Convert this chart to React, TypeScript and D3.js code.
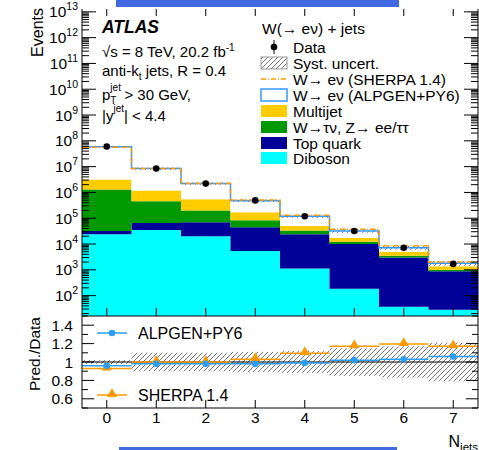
import * as d3 from "d3";
import { useEffect, useRef } from "react";

// jet multiplicity bins
const nJets = [0, 1, 2, 3, 4, 5, 6, 7];
const xTickLabels = ["0", "1", "2", "3", "4", "5", "6", "7"];

// events per bin
const dataEvents = [6.0e7, 8.5e6, 2.2e6, 4.9e5, 1.2e5, 3.2e4, 7.1e3, 1.7e3];
const wAlpgen = [5.58e7, 7.2e6, 1.66e6, 3.1e5, 6.8e4, 1.46e4, 2.2e3, 450];
const multijet = [1.9e6, 7.5e5, 3.4e5, 8.7e4, 1.7e4, 5.1e3, 1.5e3, 350];
const ewk = [1.27e6, 3.85e5, 1.3e5, 3.8e4, 9e3, 2.3e3, 540, 130];
const topQuark = [8e3, 3.0e4, 5.0e4, 3.96e4, 2.3e4, 9.8e3, 2.94e3, 858];
const diboson = [2.4e4, 3.5e4, 2.0e4, 5.4e3, 1.1e3, 170, 21, 12];

// ratio panel
const ratioAlpgen = [0.96, 0.98, 0.98, 0.98, 0.99, 1.02, 1.03, 1.06];
const ratioSherpa = [0.93, 1.0, 1.0, 1.03, 1.095, 1.17, 1.195, 1.17];
const systUncert = [0.02, 0.1, 0.1, 0.11, 0.12, 0.15, 0.17, 0.21];
const ratioTicks = [0.6, 0.8, 1, 1.2, 1.4];

const W = 479;
const H = 450;
const left = 82;
const right = 478;
const top = 9;
const split = 316;
const bottom = 408;

const font = "'Liberation Sans', Arial, sans-serif";

function App() {
  const svgRef = useRef<SVGSVGElement>(null);

  useEffect(() => {
    const svg = d3.select(svgRef.current);
    svg.selectAll("*").remove();

    const x = d3.scaleLinear().domain([-0.5, 7.5]).range([left, right]);
    const y = d3.scaleLog().domain([Math.pow(10, 1.21), Math.pow(10, 13.11)]).range([split, top]);
    const yr = d3.scaleLinear().domain([0.5, 1.5]).range([bottom, split]);

    const defs = svg.append("defs");
    const pat = defs
      .append("pattern")
      .attr("id", "hatch")
      .attr("patternUnits", "userSpaceOnUse")
      .attr("width", 5)
      .attr("height", 5);
    pat
      .append("path")
      .attr("d", "M-1,1 l2,-2 M0,5 l5,-5 M4,6 l2,-2")
      .attr("stroke", "#666")
      .attr("stroke-width", 0.9);
    defs
      .append("clipPath")
      .attr("id", "mainClip")
      .append("rect")
      .attr("x", left)
      .attr("y", top)
      .attr("width", right - left)
      .attr("height", split - top);

    // blue bars
    svg.append("rect").attr("x", 116).attr("y", 0).attr("width", 283).attr("height", 7).attr("fill", "#4169e1");
    svg.append("rect").attr("x", 119).attr("y", 447).attr("width", 278).attr("height", 3).attr("fill", "#4169e1");

    const stepPts = (vals: number[]) => {
      const pts = nJets.map((n, i) => ({ x: n - 0.5, v: vals[i] }));
      pts.push({ x: 7.5, v: vals[vals.length - 1] });
      return pts;
    };

    // stacked histograms
    const layers = [
      { vals: diboson, color: "#00ffff" },
      { vals: topQuark, color: "#000099" },
      { vals: ewk, color: "#009900" },
      { vals: multijet, color: "#ffcc00" },
      { vals: wAlpgen, color: "#ffffff" },
    ];
    const main = svg.append("g").attr("clip-path", "url(#mainClip)");
    let cum = nJets.map(() => y.domain()[0]);
    layers.forEach((l) => {
      const lo = cum.slice();
      const hi = lo.map((c, i) => c + l.vals[i]);
      const loPts = stepPts(lo);
      const hiPts = stepPts(hi);
      const area = d3
        .area<{ x: number; v: number }>()
        .curve(d3.curveStepAfter)
        .x((d) => x(d.x))
        .y0((_, i) => y(loPts[i].v))
        .y1((d) => y(d.v));
      main.append("path").attr("d", area(hiPts) as string).attr("fill", l.color);
      cum = hi;
    });
    const total = cum.slice();

    // syst band on the total
    nJets.forEach((n, i) => {
      main
        .append("rect")
        .attr("x", x(n - 0.5))
        .attr("width", x(n + 0.5) - x(n - 0.5))
        .attr("y", y(total[i] * (1 + systUncert[i])))
        .attr("height", y(total[i] * (1 - systUncert[i])) - y(total[i] * (1 + systUncert[i])))
        .attr("fill", "url(#hatch)");
    });

    const stepLine = (vals: number[]) =>
      d3
        .line<{ x: number; v: number }>()
        .curve(d3.curveStepAfter)
        .x((d) => x(d.x))
        .y((d) => y(d.v))(stepPts(vals)) as string;

    main
      .append("path")
      .attr("d", stepLine(total))
      .attr("fill", "none")
      .attr("stroke", "#3399ff")
      .attr("stroke-width", 1.5);
    const sherpaMain = nJets.map((_, i) => ratioSherpa[i] * dataEvents[i]);
    main
      .append("path")
      .attr("d", stepLine(sherpaMain))
      .attr("fill", "none")
      .attr("stroke", "#ff9900")
      .attr("stroke-width", 1.5)
      .attr("stroke-dasharray", "5,2,1,2");

    // data points
    nJets.forEach((n, i) => {
      const v = dataEvents[i];
      main
        .append("line")
        .attr("x1", x(n))
        .attr("x2", x(n))
        .attr("y1", y(v + Math.sqrt(v) * 3))
        .attr("y2", y(v - Math.sqrt(v) * 3))
        .attr("stroke", "black");
      main.append("circle").attr("cx", x(n)).attr("cy", y(v)).attr("r", 3.3).attr("fill", "black");
    });

    // ratio panel
    nJets.forEach((n, i) => {
      svg
        .append("rect")
        .attr("x", x(n - 0.5))
        .attr("width", x(n + 0.5) - x(n - 0.5))
        .attr("y", yr(1 + systUncert[i]))
        .attr("height", yr(1 - systUncert[i]) - yr(1 + systUncert[i]))
        .attr("fill", "url(#hatch)");
    });
    svg
      .append("line")
      .attr("x1", left)
      .attr("x2", right)
      .attr("y1", yr(1))
      .attr("y2", yr(1))
      .attr("stroke", "black")
      .attr("stroke-width", 1.2);

    const sherpaColor = "#ff9900";
    const alpgenColor = "#2a9df4";
    nJets.forEach((n, i) => {
      svg
        .append("line")
        .attr("x1", x(n - 0.5))
        .attr("x2", x(n + 0.5))
        .attr("y1", yr(ratioSherpa[i]))
        .attr("y2", yr(ratioSherpa[i]))
        .attr("stroke", sherpaColor)
        .attr("stroke-width", 1.5);
      svg
        .append("path")
        .attr("d", d3.symbol().type(d3.symbolTriangle).size(45)() as string)
        .attr("transform", `translate(${x(n)},${yr(ratioSherpa[i]) - 1})`)
        .attr("fill", sherpaColor);
    });
    nJets.forEach((n, i) => {
      svg
        .append("line")
        .attr("x1", x(n - 0.5))
        .attr("x2", x(n + 0.5))
        .attr("y1", yr(ratioAlpgen[i]))
        .attr("y2", yr(ratioAlpgen[i]))
        .attr("stroke", alpgenColor)
        .attr("stroke-width", 1.5);
      svg.append("circle").attr("cx", x(n)).attr("cy", yr(ratioAlpgen[i])).attr("r", 3.3).attr("fill", alpgenColor);
    });

    // ratio legend
    const rl = [
      { label: "ALPGEN+PY6", yy: 333, color: alpgenColor, tri: false },
      { label: "SHERPA 1.4", yy: 395, color: sherpaColor, tri: true },
    ];
    rl.forEach((e) => {
      svg.append("line").attr("x1", 97).attr("x2", 127).attr("y1", e.yy).attr("y2", e.yy).attr("stroke", e.color).attr("stroke-width", 1.5);
      if (e.tri) {
        svg
          .append("path")
          .attr("d", d3.symbol().type(d3.symbolTriangle).size(45)() as string)
          .attr("transform", `translate(112,${e.yy - 1})`)
          .attr("fill", e.color);
      } else {
        svg.append("circle").attr("cx", 112).attr("cy", e.yy).attr("r", 3.3).attr("fill", e.color);
      }
      svg
        .append("text")
        .attr("x", 138)
        .attr("y", e.yy + 6)
        .attr("font-size", 16)
        .attr("font-family", font)
        .text(e.label);
    });

    // frames and ticks
    const axis = svg.append("g").attr("stroke", "black").attr("stroke-width", 1);
    axis.append("line").attr("x1", left).attr("x2", left).attr("y1", top).attr("y2", bottom);
    axis.append("line").attr("x1", right).attr("x2", right).attr("y1", top).attr("y2", bottom);
    axis.append("line").attr("x1", left).attr("x2", right).attr("y1", split).attr("y2", split);
    axis.append("line").attr("x1", left).attr("x2", right).attr("y1", bottom).attr("y2", bottom);

    // log ticks
    const [y0, y1] = y.domain();
    for (let e = 1; e <= 13; e++) {
      for (let m = 1; m <= 9; m++) {
        const v = m * Math.pow(10, e);
        if (v < y0 || v > y1) continue;
        const len = m === 1 ? 14 : 7;
        const yy = y(v);
        axis.append("line").attr("x1", left).attr("x2", left + len).attr("y1", yy).attr("y2", yy);
        axis.append("line").attr("x1", right - len).attr("x2", right).attr("y1", yy).attr("y2", yy);
      }
    }
    for (let e = 2; e <= 13; e++) {
      const t = svg
        .append("text")
        .attr("x", 78)
        .attr("y", y(Math.pow(10, e)) + 5.5)
        .attr("text-anchor", "end")
        .attr("font-size", 15.5)
        .attr("font-family", font);
      t.append("tspan").text("10");
      t.append("tspan").attr("dy", -7).attr("font-size", 10.5).text(String(e));
    }

    // ratio ticks
    d3.range(0.5, 1.501, 0.1).forEach((v) => {
      const major = Math.abs(Math.round(v * 5) - v * 5) < 1e-6;
      const len = major ? 12 : 6;
      const yy = yr(v);
      axis.append("line").attr("x1", left).attr("x2", left + len).attr("y1", yy).attr("y2", yy);
      axis.append("line").attr("x1", right - len).attr("x2", right).attr("y1", yy).attr("y2", yy);
    });
    ratioTicks.forEach((v) => {
      svg
        .append("text")
        .attr("x", 73)
        .attr("y", yr(v) + 5.5)
        .attr("text-anchor", "end")
        .attr("font-size", 15.5)
        .attr("font-family", font)
        .text(String(v));
    });

    // x ticks
    nJets.forEach((n, i) => {
      const xx = x(n);
      axis.append("line").attr("x1", xx).attr("x2", xx).attr("y1", top).attr("y2", top + 7);
      axis.append("line").attr("x1", xx).attr("x2", xx).attr("y1", split - 8).attr("y2", split);
      axis.append("line").attr("x1", xx).attr("x2", xx).attr("y1", bottom - 8).attr("y2", bottom);
      svg
        .append("text")
        .attr("x", xx)
        .attr("y", 422.5)
        .attr("text-anchor", "middle")
        .attr("font-size", 15.5)
        .attr("font-family", font)
        .text(xTickLabels[i]);
    });

    // axis titles
    svg
      .append("text")
      .attr("transform", "translate(43,8) rotate(-90)")
      .attr("text-anchor", "end")
      .attr("font-size", 16)
      .attr("font-family", font)
      .text("Events");
    svg
      .append("text")
      .attr("transform", "translate(40,317) rotate(-90)")
      .attr("text-anchor", "end")
      .attr("font-size", 15.5)
      .attr("font-family", font)
      .text("Pred./Data");
    const nj = svg
      .append("text")
      .attr("x", 478)
      .attr("y", 447)
      .attr("text-anchor", "end")
      .attr("font-size", 16)
      .attr("font-family", font);
    nj.append("tspan").text("N");
    nj.append("tspan").attr("dy", 4).attr("font-size", 11.5).text("jets");

    // ATLAS label block
    const tx = (xx: number, yy: number, s: number, str: string) =>
      svg.append("text").attr("x", xx).attr("y", yy).attr("font-size", s).attr("font-family", font).text(str);
    tx(102, 33, 17.5, "ATLAS").attr("font-weight", "bold").attr("font-style", "italic");
    const sq = tx(102, 57, 15, "√s = 8 TeV, 20.2 fb");
    sq.append("tspan").attr("dy", -6).attr("font-size", 10).text("-1");
    const ak = tx(102, 76, 15, "anti-k");
    ak.append("tspan").attr("dy", 4).attr("font-size", 10).text("t");
    ak.append("tspan").attr("dy", -4).text(" jets, R = 0.4");
    const pt = tx(102, 100, 15, "p");
    pt.append("tspan").attr("dy", -9).attr("font-size", 10).text("jet");
    pt.append("tspan").attr("dx", -10.6).attr("dy", 13).attr("font-size", 10).text("T");
    pt.append("tspan").attr("dx", 8).attr("dy", -4).text("> 30 GeV,");
    const yj = tx(102, 121, 15, "|y");
    yj.append("tspan").attr("dy", -9).attr("font-size", 10).text("jet");
    yj.append("tspan").attr("dy", 9).text("| < 4.4");

    // legend
    tx(262, 34, 15.5, "W(→ eν) + jets");
    const rows = [47, 63, 79, 95, 111, 127, 143, 158];
    const labels = [
      "Data",
      "Syst. uncert.",
      "W→ eν (SHERPA 1.4)",
      "W→ eν (ALPGEN+PY6)",
      "Multijet",
      "W→τν, Z→ ee/ττ",
      "Top quark",
      "Diboson",
    ];
    rows.forEach((ry, i) => tx(293, ry + 5.5, 15.5, labels[i]));
    const bx = 261;
    const bw = 26;
    const bh = 12;
    svg.append("line").attr("x1", 274).attr("x2", 274).attr("y1", rows[0] - 7).attr("y2", rows[0] + 7).attr("stroke", "black");
    svg.append("circle").attr("cx", 274).attr("cy", rows[0]).attr("r", 3.3).attr("fill", "black");
    svg
      .append("rect")
      .attr("x", bx)
      .attr("y", rows[1] - bh / 2)
      .attr("width", bw)
      .attr("height", bh)
      .attr("fill", "url(#hatch)")
      .attr("stroke", "#999");
    svg
      .append("line")
      .attr("x1", bx)
      .attr("x2", bx + bw)
      .attr("y1", rows[2])
      .attr("y2", rows[2])
      .attr("stroke", "#ff9900")
      .attr("stroke-width", 1.5)
      .attr("stroke-dasharray", "5,2,1,2");
    svg
      .append("rect")
      .attr("x", bx)
      .attr("y", rows[3] - bh / 2)
      .attr("width", bw)
      .attr("height", bh)
      .attr("fill", "white")
      .attr("stroke", "#3399ff")
      .attr("stroke-width", 1.5);
    ["#ffcc00", "#009900", "#000099", "#00ffff"].forEach((c, k) => {
      svg
        .append("rect")
        .attr("x", bx)
        .attr("y", rows[4 + k] - bh / 2)
        .attr("width", bw)
        .attr("height", bh)
        .attr("fill", c);
    });
  }, []);

  return (
    <div style={{ position: "absolute", left: 0, top: 0 }}>
      <svg ref={svgRef} width={W} height={H} style={{ display: "block", background: "white" }}></svg>
    </div>
  );
}

export default App;
